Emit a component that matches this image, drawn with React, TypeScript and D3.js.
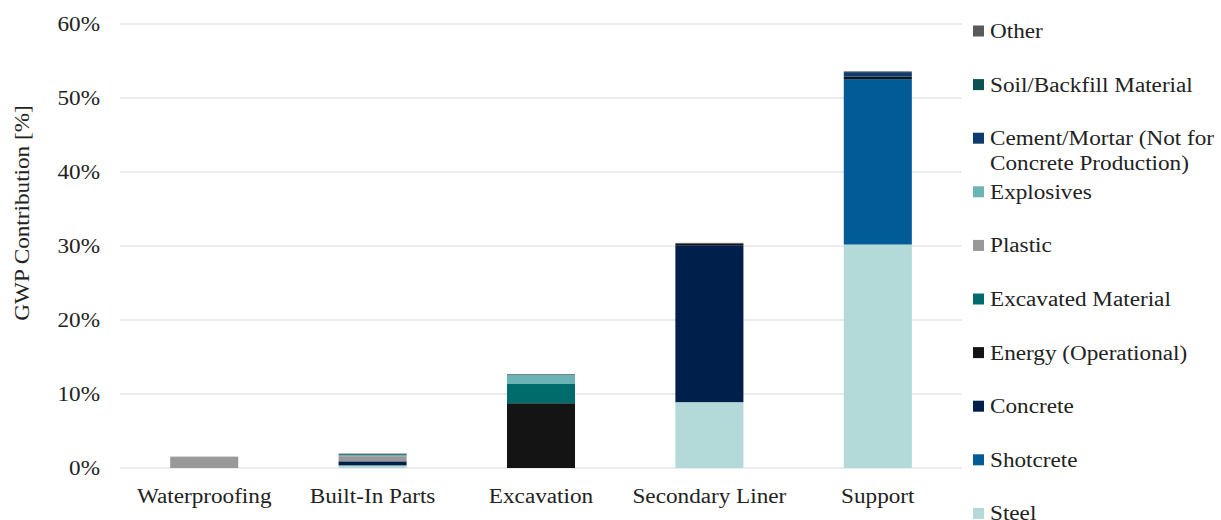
import React from "react"
import * as d3 from "d3"

const categories = ["Waterproofing", "Built-In Parts", "Excavation", "Secondary Liner", "Support"]

// stacked bottom -> top
const seriesNames = [
  "Steel",
  "Shotcrete",
  "Concrete",
  "Energy (Operational)",
  "Excavated Material",
  "Plastic",
  "Explosives",
  "Cement/Mortar (Not for Concrete Production)",
  "Soil/Backfill Material",
  "Other",
]

const seriesColors = [
  "#b3d9d9",
  "#005b96",
  "#001f4a",
  "#141414",
  "#006b6b",
  "#999999",
  "#6cb3b5",
  "#0d3b6e",
  "#0b5350",
  "#595959",
]

// values in % per category, same order as categories
const steel = [0, 0.35, 0, 8.9, 30.2]
const shotcrete = [0, 0, 0, 0, 22.35]
const concrete = [0, 0.55, 0, 21.2, 0]
const energy = [0, 0, 8.75, 0.25, 0.35]
const excavated = [0, 0, 2.6, 0, 0]
const plastic = [1.45, 0.7, 0, 0, 0]
const explosives = [0, 0.15, 1.25, 0, 0]
const cementMortar = [0, 0.05, 0, 0, 0.6]
const soil = [0, 0.1, 0, 0, 0]
const other = [0.07, 0.05, 0.1, 0.07, 0.1]

const seriesValues = [steel, shotcrete, concrete, energy, excavated, plastic, explosives, cementMortar, soil, other]

const yTicks = [0, 10, 20, 30, 40, 50, 60]

const legendLines: string[][] = [
  ["Other"],
  ["Soil/Backfill Material"],
  ["Cement/Mortar (Not for", "Concrete Production)"],
  ["Explosives"],
  ["Plastic"],
  ["Excavated Material"],
  ["Energy (Operational)"],
  ["Concrete"],
  ["Shotcrete"],
  ["Steel"],
]

const W = 1221
const H = 520
const font = "'Liberation Serif', 'Times New Roman', serif"
const FS = 20
const SX = 1.16 // the original text is a bit wider than Times at this size

function Label(props: { x: number; y: number; anchor?: string; rotate?: number; children: React.ReactNode }) {
  const { x, y, anchor = "start", rotate = 0 } = props
  return (
    <text
      transform={`translate(${x},${y}) rotate(${rotate}) scale(${SX},1)`}
      textAnchor={anchor}
      dy="0.35em"
      fontSize={FS}
      fill="#222"
    >
      {props.children}
    </text>
  )
}

export default function App() {
  const x = d3.scaleBand().domain(categories).range([120, 962]).paddingInner(0.596).paddingOuter(0.298)
  const y = d3.scaleLinear().domain([0, 60]).range([468, 24])

  const rows = categories.map((c, i) => {
    const r: any = { category: c }
    seriesNames.forEach((s, j) => (r[s] = seriesValues[j][i]))
    return r
  })
  const stacked = d3.stack<any>().keys(seriesNames)(rows)

  const legendTop = 31
  const legendStep = 53.6

  return (
    <svg width={W} height={H} style={{ position: "absolute", left: 0, top: 0, background: "#fff" }} fontFamily={font}>
      {yTicks.map(t => (
        <g key={t}>
          <line x1={120} x2={962} y1={y(t)} y2={y(t)} stroke="#d9d9d9" strokeWidth={1} />
          <Label x={100} y={y(t)} anchor="end">
            {t}%
          </Label>
        </g>
      ))}
      {stacked.map((layer, j) => (
        <g key={layer.key} fill={seriesColors[j]}>
          {layer.map((d, i) =>
            d[1] - d[0] > 0 ? (
              <rect
                key={i}
                x={x(categories[i])}
                width={x.bandwidth()}
                y={y(d[1])}
                height={y(d[0]) - y(d[1])}
              />
            ) : null
          )}
        </g>
      ))}
      {categories.map(c => (
        <Label key={c} x={(x(c) as number) + x.bandwidth() / 2} y={496} anchor="middle">
          {c}
        </Label>
      ))}
      <Label x={22} y={213} anchor="middle" rotate={-90}>
        GWP Contribution [%]
      </Label>
      {legendLines.map((lines, k) => {
        const cy = legendTop + k * legendStep
        const colorIdx = seriesNames.length - 1 - k
        return (
          <g key={k}>
            <rect x={973} y={cy - 5.5} width={11} height={11} fill={seriesColors[colorIdx]} />
            {lines.map((l, m) => (
              <Label key={m} x={990} y={cy + m * 25}>
                {l}
              </Label>
            ))}
          </g>
        )
      })}
    </svg>
  )
}
